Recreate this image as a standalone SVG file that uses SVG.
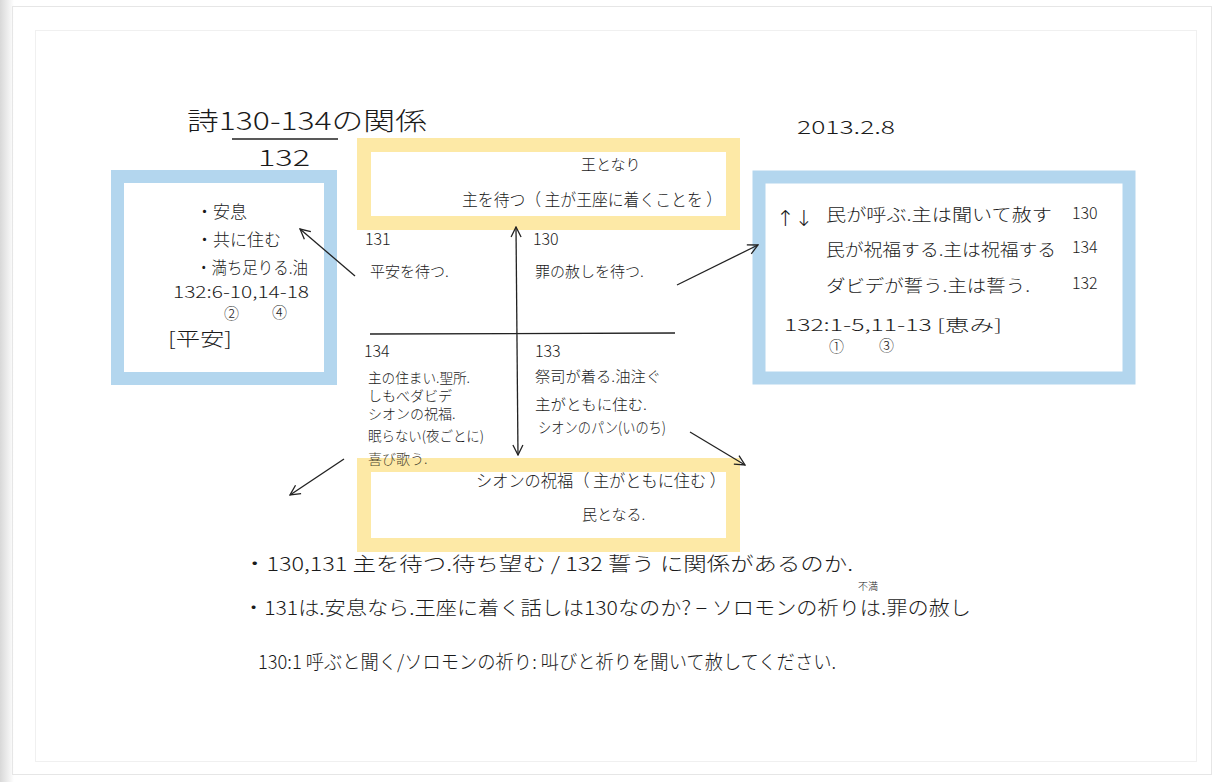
<svg xmlns="http://www.w3.org/2000/svg" width="1220" height="782" viewBox="0 0 1220 782">
<defs>
<linearGradient id="shadeL" x1="0" y1="0" x2="1" y2="0">
<stop offset="0" stop-color="#d8d8d8"/><stop offset="1" stop-color="#ffffff"/>
</linearGradient>
<marker id="ah" viewBox="0 0 12 12" refX="11" refY="6" markerWidth="12" markerHeight="12" markerUnits="userSpaceOnUse" orient="auto-start-reverse">
<path d="M1,1 L11,6 L1,11" fill="none" stroke="#222" stroke-width="1.3"/>
</marker>
<style>
text{font-family:"Noto Sans CJK JP","Liberation Sans",sans-serif;fill:#1a1a1a;font-weight:300}
.t{font-size:17px}
.s{font-size:15px}
.x{font-size:14px}
.n{font-size:16px}
.blue{fill:none;stroke:#b3d6ee;stroke-width:13}
.yel{fill:none;stroke:#fde9a6;stroke-width:14}
.ln{fill:none;stroke:#222;stroke-width:1.3}
</style>
</defs>
<rect width="1220" height="782" fill="#ffffff"/>
<rect x="0" y="0" width="14" height="782" fill="url(#shadeL)"/>
<rect x="12.5" y="6.5" width="1199" height="768" fill="none" stroke="#e6e6e6"/>
<rect x="35.5" y="30.5" width="1161" height="731" fill="none" stroke="#f0f0f0"/>

<g id="title">
<text x="187" y="130" style="font-size:25px" textLength="240" lengthAdjust="spacingAndGlyphs">詩130-134の関係</text>
<line x1="232" y1="139" x2="338" y2="139" class="ln"/>
<text x="258" y="166" style="font-size:22px" textLength="52" lengthAdjust="spacingAndGlyphs">132</text>
</g>
<g id="date"><text x="797" y="134" style="font-size:18px" textLength="98" lengthAdjust="spacingAndGlyphs">2013.2.8</text></g>

<g id="top-box">
<rect class="yel" x="364" y="145" width="369" height="78"/>
<text class="s" x="581" y="170">王となり</text>
<text class="t" x="462" y="206" textLength="260" lengthAdjust="spacingAndGlyphs">主を待つ（ 主が王座に着くことを ）</text>
</g>

<g id="bottom-box">
<rect class="yel" x="364" y="465" width="369" height="80"/>
<text class="t" x="476" y="487" textLength="250" lengthAdjust="spacingAndGlyphs">シオンの祝福（ 主がともに住む ）</text>
<text class="s" x="582" y="520">民となる.</text>
</g>

<g id="left-box">
<rect class="blue" x="117.5" y="176.5" width="213" height="202"/>
<text class="t" x="196" y="218">・安息</text>
<text class="t" x="196" y="246">・共に住む</text>
<text class="t" x="196" y="274" textLength="112" lengthAdjust="spacingAndGlyphs">・満ち足りる.油</text>
<text class="n" x="173" y="298" textLength="136" lengthAdjust="spacingAndGlyphs">132:6-10,14-18</text>
<text class="s" x="224" y="319">②</text>
<text class="s" x="272" y="318">④</text>
<text style="font-size:19px" x="168" y="346" textLength="64" lengthAdjust="spacingAndGlyphs">[平安]</text>
</g>

<g id="right-box">
<rect class="blue" x="759" y="177" width="370" height="201"/>
<text style="font-size:22px;font-family:'DejaVu Sans',sans-serif;fill:#1a1a1a" x="776" y="226">↑↓</text>
<text class="t" x="826" y="221" textLength="226" lengthAdjust="spacingAndGlyphs">民が呼ぶ.主は聞いて赦す</text>
<text class="n" x="1072" y="219">130</text>
<text class="t" x="826" y="256" textLength="230" lengthAdjust="spacingAndGlyphs">民が祝福する.主は祝福する</text>
<text class="n" x="1072" y="253">134</text>
<text class="t" x="826" y="292" textLength="204" lengthAdjust="spacingAndGlyphs">ダビデが誓う.主は誓う.</text>
<text class="n" x="1072" y="289">132</text>
<text class="n" x="784" y="331" textLength="218" lengthAdjust="spacingAndGlyphs">132:1-5,11-13 [恵み]</text>
<text class="s" x="829" y="352">①</text>
<text class="s" x="879" y="351">③</text>
</g>

<g id="q131">
<text class="n" x="365" y="245">131</text>
<text class="s" x="370" y="277">平安を待つ.</text>
</g>
<g id="q130">
<text class="n" x="533" y="245">130</text>
<text class="s" x="535" y="277">罪の赦しを待つ.</text>
</g>
<g id="q134">
<text class="n" x="364" y="357">134</text>
<text class="x" x="368" y="383" textLength="102" lengthAdjust="spacingAndGlyphs">主の住まい.聖所.</text>
<text class="x" x="368" y="401">しもべダビデ</text>
<text class="x" x="368" y="419">シオンの祝福.</text>
<text class="x" x="368" y="441" textLength="116" lengthAdjust="spacingAndGlyphs">眠らない(夜ごとに)</text>
<text class="x" x="368" y="464" style="fill:#4a4530">喜び歌う.</text>
</g>
<g id="q133">
<text class="n" x="535" y="357">133</text>
<text class="s" x="535" y="382" textLength="126" lengthAdjust="spacingAndGlyphs">祭司が着る.油注ぐ</text>
<text class="s" x="535" y="410" textLength="112" lengthAdjust="spacingAndGlyphs">主がともに住む.</text>
<text class="s" x="538" y="433" textLength="128" lengthAdjust="spacingAndGlyphs">シオンのパン(いのち)</text>
</g>

<g id="connectors">
<line x1="516" y1="227" x2="518" y2="455" class="ln" marker-start="url(#ah)" marker-end="url(#ah)"/>
<line x1="370" y1="334" x2="675" y2="333" class="ln"/>
<line x1="355" y1="276" x2="300" y2="229" class="ln" marker-end="url(#ah)"/>
<line x1="677" y1="285" x2="758" y2="245" class="ln" marker-end="url(#ah)"/>
<line x1="344" y1="459" x2="290" y2="495" class="ln" marker-end="url(#ah)"/>
<line x1="690" y1="432" x2="745" y2="465" class="ln" marker-end="url(#ah)"/>
</g>

<g id="notes">
<text style="font-size:19px" x="243" y="571" textLength="610" lengthAdjust="spacingAndGlyphs">・130,131 主を待つ.待ち望む / 132 誓う に関係があるのか.</text>
<text style="font-size:10px" x="858" y="590">不満</text>
<text style="font-size:19px" x="243" y="615" textLength="728" lengthAdjust="spacingAndGlyphs">・131は.安息なら.王座に着く話しは130なのか? − ソロモンの祈りは.罪の赦し</text>
<text style="font-size:19px" x="258" y="669" textLength="578" lengthAdjust="spacingAndGlyphs">130:1 呼ぶと聞く/ソロモンの祈り: 叫びと祈りを聞いて赦してください.</text>
</g>
</svg>
